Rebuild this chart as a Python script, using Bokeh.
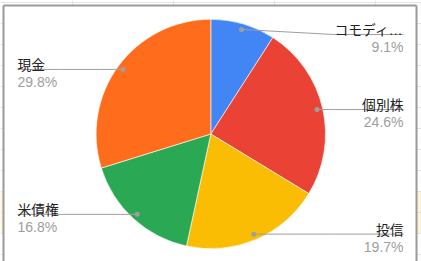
import numpy as np
from bokeh.plotting import figure
from bokeh.models import Range1d
from bokeh.core.properties import value
from bokeh.embed import file_html
from bokeh.resources import INLINE

# Portfolio breakdown (share of total, %), clockwise from 12 o'clock
categories = ["コモディ…", "個別株", "投信", "米債権", "現金"]
shares = [9.1, 24.6, 19.7, 16.8, 29.8]
colors = ["#4285F4", "#EA4335", "#FBBC04", "#2BA854", "#FF6D1C"]
pct_labels = [f"{s:.1f}%" for s in shares]

W, H = 421, 261


def sy(v):
    """Convert a top-down pixel offset into the y-up data space."""
    return H - v


p = figure(width=W, height=H, output_backend="svg", toolbar_location=None,
           x_range=Range1d(0, W), y_range=Range1d(0, H),
           x_axis_type=None, y_axis_type=None, min_border=0)
p.outline_line_color = None
p.xgrid.visible = False
p.ygrid.visible = False
p.background_fill_color = "white"
p.border_fill_color = "white"

# --- spreadsheet cells peeking out around the chart box ---
row_lines = [2 + 21 * k for k in range(13)]
p.quad(left=[0, 416], right=[3, W], top=[sy(191), sy(191)], bottom=[sy(233), sy(233)],
       fill_color="#fef3d6", line_color=None)
p.segment(x0=[0] * len(row_lines), x1=[W] * len(row_lines),
          y0=[sy(v) for v in row_lines], y1=[sy(v) for v in row_lines],
          line_color="#e2e2e2", line_width=1)
col_lines = [72, 173, 274, 375]
p.segment(x0=col_lines, x1=col_lines, y0=[sy(0)] * 4, y1=[sy(5)] * 4,
          line_color="#e2e2e2", line_width=1)

# --- chart box ---
p.quad(left=[3], right=[416], top=[sy(5)], bottom=[sy(H + 5)],
       fill_color="white", line_color=None)
p.segment(x0=[3, 3, 416], x1=[416, 3, 416], y0=[sy(5), sy(5), sy(5)], y1=[sy(5), sy(H + 5), sy(H + 5)],
          line_color="#9a9a9a", line_width=2)

# --- pie ---
cx, cy, R = 210.3, sy(133.5), 114.7
frac = np.cumsum([0.0] + shares) / 100.0
start = np.pi / 2 - 2 * np.pi * frac[:-1]
end = np.pi / 2 - 2 * np.pi * frac[1:]
p.wedge(x=cx, y=cy, radius=R, start_angle=start, end_angle=end, direction="clock",
        fill_color=colors, line_color="white", line_width=0.6)

# --- leader lines and labels ---
mid = np.pi / 2 - 2 * np.pi * (frac[:-1] + frac[1:]) / 2
dot_x = cx + 0.95 * R * np.cos(mid)
dot_y = cy + 0.95 * R * np.sin(mid)
top_limit = sy(34)

xs, ys = [], []
name_x, name_y, pct_y, align = [], [], [], []
for i in range(len(shares)):
    ly = min(dot_y[i], top_limit)
    if np.cos(mid[i]) > 0:
        end_x, knee_x, a = 403, 333, "right"
    else:
        end_x, knee_x, a = 17, 60, "left"
    xs.append([dot_x[i], knee_x, end_x])
    ys.append([dot_y[i], ly, ly])
    name_x.append(end_x)
    name_y.append(ly + 4)
    pct_y.append(ly - 12.8)
    align.append(a)

p.multi_line(xs=xs, ys=ys, line_color="#9e9e9e", line_width=1)
p.scatter(x=dot_x, y=dot_y, size=5, fill_color="#9e9e9e", line_color=None)

p.text(x=name_x, y=name_y, text=categories, text_align=align, text_baseline="alphabetic",
       text_font=value("'Liberation Sans', 'Noto Sans CJK JP'"), text_font_size="13.8px",
       text_color="#222222")
p.text(x=name_x, y=pct_y, text=pct_labels, text_align=align, text_baseline="alphabetic",
       text_font=value("Liberation Sans"), text_font_size="14px", text_color="#9e9e9e")

open("out.html", "w").write(file_html(p, INLINE))
